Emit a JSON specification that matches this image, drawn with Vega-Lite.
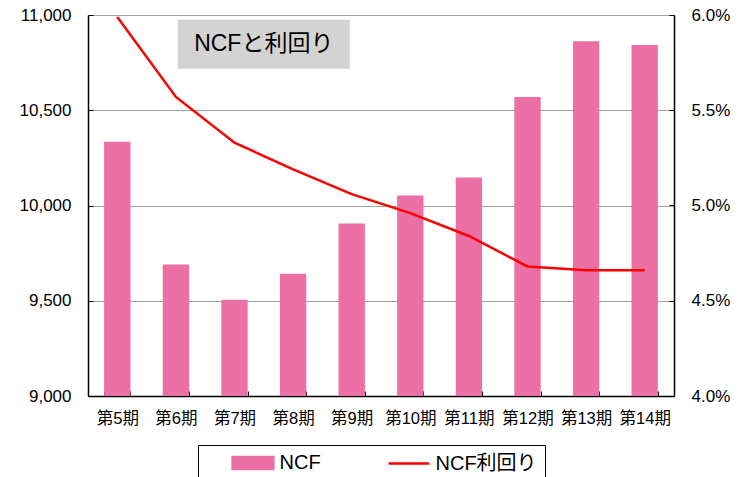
{
  "$schema": "https://vega.github.io/schema/vega-lite/v6.json",
  "width": 586,
  "height": 381,
  "autosize": {"type": "none"},
  "padding": {"left": 88, "top": 15, "right": 71, "bottom": 81},
  "background": "white",
  "config": {
    "view": {"stroke": null},
    "font": "Liberation Sans, Noto Sans CJK JP",
    "axis": {
      "labelColor": "black",
      "domainColor": "black",
      "tickColor": "black",
      "labelFont": "Liberation Sans, Noto Sans CJK JP",
      "titleFont": "Liberation Sans, Noto Sans CJK JP"
    },
    "legend": {"labelFont": "Liberation Sans, Noto Sans CJK JP"}
  },
  "data": {
    "values": [
      {"period": "第5期", "ncf": 10335, "yield": 0.0599},
      {"period": "第6期", "ncf": 9690, "yield": 0.0557},
      {"period": "第7期", "ncf": 9505, "yield": 0.0533},
      {"period": "第8期", "ncf": 9642, "yield": 0.0519},
      {"period": "第9期", "ncf": 9905, "yield": 0.0506},
      {"period": "第10期", "ncf": 10053, "yield": 0.0496},
      {"period": "第11期", "ncf": 10147, "yield": 0.0484},
      {"period": "第12期", "ncf": 10570, "yield": 0.0468},
      {"period": "第13期", "ncf": 10862, "yield": 0.0466},
      {"period": "第14期", "ncf": 10843, "yield": 0.0466}
    ]
  },
  "encoding": {
    "x": {
      "field": "period",
      "type": "nominal",
      "sort": null,
      "scale": {"paddingInner": 0.55, "paddingOuter": 0.275},
      "axis": {
        "title": null,
        "labelAngle": 0,
        "labelFontSize": 16.5,
        "labelPadding": 19,
        "tickSize": -5,
        "tickBand": "extent",
        "domainWidth": 1.5,
        "labelFont": "Liberation Sans, Noto Sans CJK JP"
      }
    }
  },
  "layer": [
    {
      "layer": [
        {
          "mark": {"type": "bar", "clip": true},
          "encoding": {
            "y": {
              "field": "ncf",
              "type": "quantitative",
              "scale": {"domain": [9000, 11000], "nice": false, "zero": false},
              "axis": {
                "title": null,
                "values": [9000, 9500, 10000, 10500, 11000],
                "format": ",.0f",
                "labelFontSize": 17,
                "labelPadding": 22,
                "tickSize": -5,
                "domainWidth": 1.5,
                "grid": true,
                "gridColor": "#A0A0A0",
                "gridWidth": 1
              }
            },
            "color": {
              "datum": "NCF",
              "scale": {"domain": ["NCF", "NCF利回り"], "range": ["#EC6FA5", "#FF0000"]},
              "legend": {
                "title": null,
                "orient": "none",
                "direction": "horizontal",
                "legendX": 110,
                "legendY": 430,
                "padding": 8,
                "strokeColor": "black",
                "fillColor": "white",
                "symbolOffset": 37,
                "columnPadding": 41,
                "labelFontSize": 20,
                "labelOffset": 16.5,
                "labelColor": "black",
                "symbolSize": 144,
                "encode": {
                  "symbols": {
                    "update": {
                      "shape": {"signal": "datum.value === 'NCF' ? 'M-3.4,-1H3.4V1H-3.4Z' : 'M-3.4,0H3.4'"},
                      "fill": {"signal": "datum.value === 'NCF' ? '#EC6FA5' : 'transparent'"},
                      "stroke": {"signal": "datum.value === 'NCF' ? 'transparent' : '#FF0000'"},
                      "strokeWidth": {"signal": "2.5"}
                    }
                  }
                }
              }
            }
          }
        },
        {
          "data": {"values": [{"label": "NCFと利回り", "pos": "第7期", "v": 10847}]},
          "mark": {"type": "point", "shape": "M-1,-0.285H1V0.285H-1Z", "size": 29584, "filled": true, "color": "#C0C0C0"},
          "encoding": {
            "x": {"field": "pos", "type": "nominal", "bandPosition": 1.61},
            "y": {"field": "v", "type": "quantitative"}
          }
        },
        {
          "data": {"values": [{"label": "NCFと利回り", "pos": "第7期", "v": 10847}]},
          "mark": {"type": "text", "fontSize": 23, "color": "black", "align": "center", "baseline": "middle", "font": "Liberation Sans, Noto Sans CJK JP"},
          "encoding": {
            "x": {"field": "pos", "type": "nominal", "bandPosition": 1.61},
            "y": {"field": "v", "type": "quantitative"},
            "text": {"field": "label"}
          }
        }
      ]
    },
    {
      "mark": {"type": "line", "color": "#FF0000", "strokeWidth": 2.5},
      "encoding": {
        "y": {
          "field": "yield",
          "type": "quantitative",
          "scale": {"domain": [0.04, 0.06], "nice": false, "zero": false},
          "axis": {
            "title": null,
            "orient": "right",
            "values": [0.04, 0.045, 0.05, 0.055, 0.06],
            "format": ".1%",
            "labelFontSize": 17,
            "labelPadding": 22,
            "tickSize": -5,
            "domainWidth": 1.5,
            "grid": false
          }
        },
        "color": {"datum": "NCF利回り"}
      }
    }
  ],
  "resolve": {"scale": {"y": "independent"}}
}
